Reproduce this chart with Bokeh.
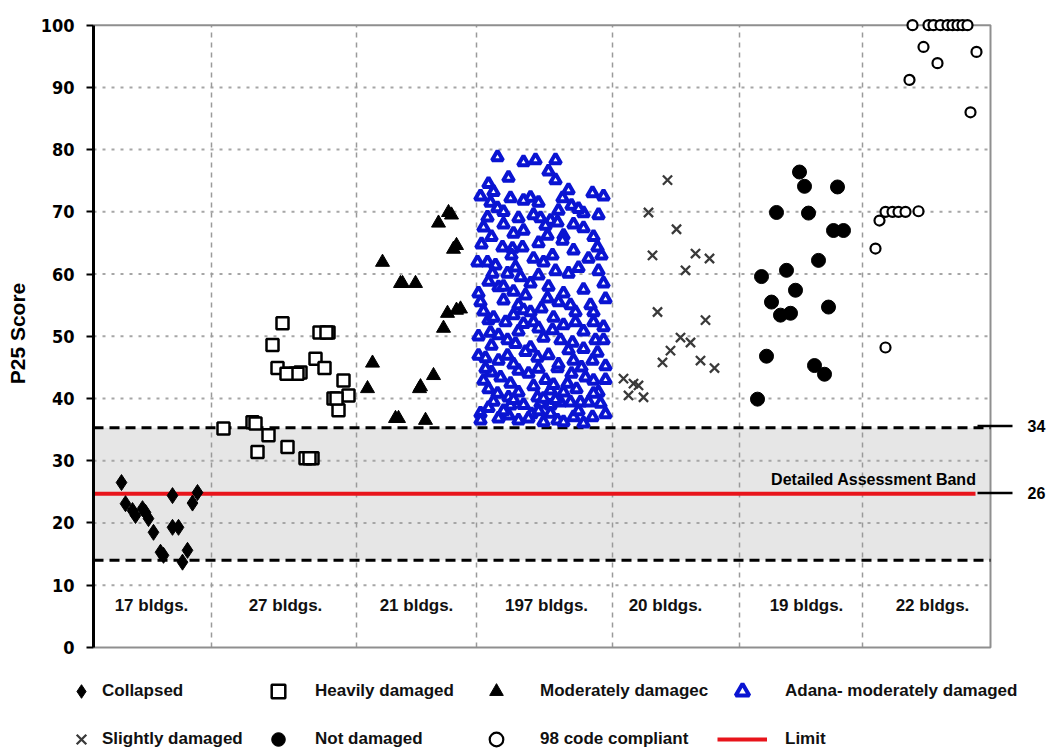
from bokeh.plotting import figure
from bokeh.layouts import column
from bokeh.models import Range1d, Legend, LegendItem, FixedTicker
from bokeh.embed import file_html
from bokeh.resources import INLINE
from bokeh.core.properties import value

# ---------------- data (x = position along the building axis, y = P25 score) ----------------
collapsed_x = [28, 32, 39, 42, 49, 52, 55, 60, 67, 70, 79, 79, 85, 89, 94, 99, 104]
collapsed_y = [26.5, 23.1, 22.0, 21.2, 22.3, 21.7, 20.7, 18.5, 15.3, 14.8, 24.4, 19.3, 19.3, 13.7, 15.6, 23.2, 24.9]

heavy_x = [189, 179, 226, 235, 184, 197, 202, 207, 222, 231, 250, 255, 240, 245, 130, 159, 175, 164, 194,
           212, 219, 204, 233, 243, 216, 193, 162]
heavy_y = [52.1, 48.6, 50.6, 50.6, 44.9, 44.0, 44.0, 44.2, 46.4, 44.9, 42.9, 40.5, 40.0, 38.1, 35.2, 36.2, 34.1,
           31.4, 32.2, 30.4, 30.4, 44.0, 50.6, 40.0, 30.4, 44.0, 36.0]

moderate_x = [355, 345, 363, 289, 307, 322, 354, 363, 350, 279, 340, 274, 326, 302, 332, 367, 358, 309, 360, 327, 305]
moderate_y = [69.9, 68.2, 64.6, 61.9, 58.5, 58.5, 53.7, 54.2, 51.3, 45.7, 43.7, 41.6, 41.6, 36.8, 36.5, 54.4, 69.5,
              58.5, 64.0, 41.9, 36.8]

adana_x = [404, 430, 442, 462, 462, 475, 499, 400, 417, 437, 469, 397, 404, 394, 505, 490, 425, 440, 447, 457, 464,
           430, 454, 470, 490, 469, 409, 419, 429, 504, 459, 450, 384, 394, 402, 422, 475, 399, 414, 427, 437, 510,
           405, 470, 454, 465, 385, 387, 432, 425, 430, 437, 420, 482, 500, 395, 412, 440, 445, 482, 500, 397, 405,
           414, 459, 450, 467, 479, 437, 502, 510, 504, 385, 392, 405, 414, 444, 480, 499, 390, 407, 425, 435, 417,
           464, 474, 492, 500, 457, 404, 415, 444, 447, 467, 477, 487, 495, 507, 457, 417, 387, 415, 457, 464, 480,
           499, 450, 490, 387,
           390, 398, 388, 410, 420, 445, 452, 480, 395, 410, 420, 445, 455, 462, 485, 495, 505, 512, 490, 477,
           390, 400, 410, 448, 460, 470, 490, 385, 425, 432, 455, 465, 490, 512, 420, 398, 445, 475, 430, 510,
           395, 400, 410, 425, 430, 438, 440, 452, 470, 483, 505, 512, 395, 425, 435, 470, 485, 500, 392, 450,
           478, 512, 420, 460,
           415, 455, 478, 395, 410, 445, 510, 485, 430, 500, 387, 465,
           418, 440, 480, 508, 398, 422, 488, 445, 462, 405, 497]
adana_y = [78.8, 78.0, 78.3, 78.3, 75.1, 73.5, 73.0, 73.2, 72.2, 72.3, 72.2, 71.5, 70.6, 69.1, 69.5, 69.8, 69.0,
           69.5, 69.0, 68.6, 68.3, 67.0, 66.2, 66.2, 67.4, 65.4, 64.3, 64.1, 64.3, 64.3, 63.0, 61.9, 61.9, 61.9,
           61.4, 61.1, 60.1, 60.1, 60.1, 59.5, 58.5, 58.5, 57.9, 56.9, 56.1, 55.5, 56.9, 55.5, 56.6, 55.0, 54.2,
           53.9, 53.4, 53.9, 53.9, 52.6, 52.3, 52.3, 51.3, 52.3, 52.3, 50.6, 50.2, 49.4, 51.0, 49.8, 49.4, 49.0,
           48.2, 49.4, 49.4, 47.4, 46.9, 46.5, 46.1, 46.9, 46.6, 46.1, 46.1, 42.9, 43.4, 44.5, 44.0, 42.4, 44.9,
           42.4, 43.4, 42.9, 41.3, 40.8, 40.2, 40.2, 39.2, 39.4, 39.4, 39.4, 39.4, 39.2, 38.9, 38.9, 37.6, 37.3,
           37.6, 36.5, 37.0, 37.0, 36.2, 36.0, 36.5,
           67.5, 66.0, 64.8, 68.0, 66.5, 65.0, 67.8, 68.0, 58.8, 58.0, 57.2, 59.8, 58.0, 60.5, 61.0, 62.5, 60.5,
           56.0, 57.5, 55.0,
           54.0, 53.0, 55.8, 54.5, 53.0, 51.8, 50.8, 50.0, 50.8, 47.5, 47.0, 45.5, 48.0, 45.2, 45.5, 44.2, 44.8,
           47.8, 52.0, 51.5,
           41.5, 39.5, 38.0, 41.0, 39.0, 37.5, 42.0, 43.0, 41.0, 41.5, 41.0, 37.5, 38.5, 36.5, 36.8, 36.2, 38.0,
           40.8, 44.8, 40.0, 44.0, 43.0, 39.8, 42.2,
           75.5, 76.5, 71.0, 74.5, 70.0, 71.5, 72.5, 70.5, 71.8, 66.0, 72.5, 70.2,
           63.0, 62.5, 63.8, 63.0, 48.5, 48.8, 45.0, 38.0, 39.8, 36.8, 55.0]

slight_x = [574, 555, 583, 559, 602, 616, 592, 564, 612, 587, 597, 577, 569, 607, 621, 530, 540, 545, 535, 550]
slight_y = [75.1, 69.9, 67.2, 63.0, 63.3, 62.5, 60.6, 53.9, 52.6, 49.8, 49.0, 47.7, 45.8, 46.1, 44.9, 43.2, 42.4,
            42.1, 40.5, 40.2]

notdam_x = [706, 711, 744, 683, 715, 740, 750, 725, 668, 693, 702, 678, 687, 697, 735, 673, 721, 731, 664]
notdam_y = [76.4, 74.1, 74.0, 69.9, 69.8, 67.0, 67.0, 62.2, 59.6, 60.6, 57.4, 55.5, 53.4, 53.7, 54.7, 46.8, 45.3,
            43.9, 39.9]

code_x = [786, 792, 799, 805, 812, 825, 782, 792, 819, 835, 840, 847, 854, 859, 864, 869, 874, 830, 844, 816, 883, 877]
code_y = [68.6, 70.0, 70.0, 70.0, 70.0, 70.1, 64.1, 48.2, 100, 100, 100, 100, 100, 100, 100, 100, 100, 96.5, 93.9,
          91.2, 95.7, 86.0]

group_counts = ["17 bldgs.", "27 bldgs.", "21 bldgs.", "197 bldgs.", "20 bldgs.", "19 bldgs.", "22 bldgs."]
group_centers = [58, 192, 323, 453, 572, 713, 839]
group_bounds = [118, 263, 383, 519, 646, 769]

y_ticks = [0, 10, 20, 30, 40, 50, 60, 70, 80, 90, 100]
grid_levels = [10, 20, 30, 40, 50, 60, 70, 80, 90]

band_low = 14.0
band_high = 35.3
limit_value = 24.7
band_labels = ["34", "26"]
band_label_levels = [35.6, 24.8]

# ---------------- styles ----------------
FRAME_R = 897       # right border of the chart box (x units)
LIMIT_END = 882
FONT = "Liberation Sans"

STYLE_COL = dict(marker="diamond", size=16, color="black")
STYLE_HEAVY = dict(marker="square", size=12, fill_color="white", line_color="black", line_width=2.5)
STYLE_MOD = dict(marker="triangle", size=14, color="black")
STYLE_ADANA = dict(marker="triangle", size=11, fill_color="white", line_color="#0a14d2", line_width=4)
STYLE_SLIGHT = dict(marker="x", size=13, line_color="#3a3a3a", line_width=2.3)
STYLE_NOT = dict(marker="circle", size=14, color="black")
STYLE_CODE = dict(marker="circle", size=10, fill_color="white", line_color="black", line_width=2.2)
STYLE_LIMIT = dict(line_color="#e8141b", line_width=4)

# ---------------- main chart ----------------
p = figure(width=1046, height=660, output_backend="svg", toolbar_location=None,
           x_range=Range1d(0, 953), y_range=Range1d(-2.1, 103),
           x_axis_location=None, min_border_left=93, min_border_right=0,
           min_border_top=6, min_border_bottom=0)
p.frame_align = False
p.outline_line_color = None
p.xgrid.visible = False
p.ygrid.visible = False
p.background_fill_color = "white"
p.border_fill_color = "white"

# gray assessment band
p.quad(left=[0], right=[FRAME_R], bottom=[band_low], top=[band_high], fill_color="#e6e6e6",
       line_color=None, level="underlay")

# dotted horizontal grid and dashed vertical dividers
p.segment(x0=[0] * len(grid_levels), x1=[FRAME_R] * len(grid_levels), y0=grid_levels, y1=grid_levels,
          line_color="#a6a6a6", line_width=2, line_dash="3 6")
p.segment(x0=group_bounds, x1=group_bounds, y0=[0] * len(group_bounds), y1=[100] * len(group_bounds),
          line_color="#9a9a9a", line_width=1.5, line_dash="5 5")

# chart box
p.quad(left=[0], right=[FRAME_R], bottom=[0], top=[100], fill_alpha=0, line_color="#8f8f8f", line_width=2)

# band edges
p.segment(x0=[0, 0], x1=[FRAME_R, FRAME_R], y0=[band_low, band_high], y1=[band_low, band_high],
          line_color="black", line_width=3, line_dash="10 6")
# limit
p.line(x=[0, LIMIT_END], y=[limit_value, limit_value], **STYLE_LIMIT)
# leader ticks to the right-hand labels
p.segment(x0=[LIMIT_END + 2, LIMIT_END + 2], x1=[919, 919], y0=band_label_levels, y1=band_label_levels,
          line_color="black", line_width=2.5)
p.text(x=[934, 934], y=band_label_levels, text=band_labels, text_font=value(FONT), text_font_style="bold",
       text_font_size="16px", text_baseline="middle", text_align="left", text_color="black")
p.text(x=[883], y=[27.0], text=["Detailed Assessment Band"], text_font=value(FONT), text_font_style="bold",
       text_font_size="16px", text_baseline="middle", text_align="right", text_color="black")

# building counts
p.text(x=group_centers, y=[6.75] * len(group_centers), text=group_counts, text_font=value(FONT),
       text_font_style="bold", text_font_size="17px", text_baseline="middle", text_align="center",
       text_color="#111111")

# data series
p.scatter(collapsed_x, collapsed_y, **STYLE_COL)
p.scatter(heavy_x, heavy_y, **STYLE_HEAVY)
p.scatter(moderate_x, moderate_y, **STYLE_MOD)
p.scatter(adana_x, adana_y, **STYLE_ADANA)
p.scatter(slight_x, slight_y, **STYLE_SLIGHT)
p.scatter(notdam_x, notdam_y, **STYLE_NOT)
p.scatter(code_x, code_y, **STYLE_CODE)

# y axis
ax = p.yaxis[0]
ax.ticker = FixedTicker(ticks=y_ticks)
ax.bounds = (0, 100)
ax.axis_line_width = 3
ax.axis_line_color = "black"
ax.major_tick_line_width = 2
ax.major_tick_line_color = "black"
ax.major_tick_out = 7
ax.major_tick_in = 0
ax.minor_tick_out = 0
ax.minor_tick_in = 0
ax.major_label_standoff = 12
ax.major_label_text_font = "DejaVu Sans Condensed, Liberation Sans, sans-serif"
ax.major_label_text_font_style = "bold"
ax.major_label_text_font_size = "18px"
ax.major_label_text_color = "black"
ax.axis_label = "P25 Score"
ax.axis_label_text_font = FONT
ax.axis_label_text_font_style = "bold"
ax.axis_label_text_font_size = "21px"
ax.axis_label_text_color = "black"
ax.axis_label_standoff = 9

# ---------------- legend strip ----------------
lg_fig = figure(width=1046, height=96, output_backend="svg", toolbar_location=None,
                x_range=Range1d(0, 1046), y_range=Range1d(0, 96),
                x_axis_location=None, y_axis_location=None, min_border=0)
lg_fig.frame_align = False
lg_fig.outline_line_color = None
lg_fig.xgrid.visible = False
lg_fig.ygrid.visible = False

NAN = [float("nan")]
k_col = lg_fig.scatter(NAN, NAN, **STYLE_COL)
k_heavy = lg_fig.scatter(NAN, NAN, **STYLE_HEAVY)
k_mod = lg_fig.scatter(NAN, NAN, **STYLE_MOD)
k_adana = lg_fig.scatter(NAN, NAN, **STYLE_ADANA)
k_slight = lg_fig.scatter(NAN, NAN, **STYLE_SLIGHT)
k_not = lg_fig.scatter(NAN, NAN, **STYLE_NOT)
k_code = lg_fig.scatter(NAN, NAN, **STYLE_CODE)
k_limit = lg_fig.line(NAN, NAN, **STYLE_LIMIT)


def add_legend(items, x_off, standoff, gw=34):
    lg = Legend(items=items, location=(x_off, 0), orientation="vertical", glyph_width=gw, glyph_height=34,
                label_height=34, spacing=14, padding=0, margin=0, label_standoff=standoff,
                border_line_color=None, background_fill_alpha=0, label_text_font=FONT,
                label_text_font_style="bold", label_text_font_size="17px", label_text_color="#111111")
    lg_fig.add_layout(lg)


add_legend([LegendItem(label="Collapsed", renderers=[k_col]),
            LegendItem(label="Slightly damaged", renderers=[k_slight])], 64, 4)
add_legend([LegendItem(label="Heavily damaged", renderers=[k_heavy]),
            LegendItem(label="Not damaged", renderers=[k_not])], 261, 20)
add_legend([LegendItem(label="Moderately damagec", renderers=[k_mod]),
            LegendItem(label="98 code compliant", renderers=[k_code])], 479, 27)
add_legend([LegendItem(label="Adana- moderately damaged", renderers=[k_adana]),
            LegendItem(label="Limit", renderers=[k_limit])], 717, 18, gw=50)

layout = column(p, lg_fig, spacing=0)
open("out.html", "w").write(file_html(layout, INLINE))
